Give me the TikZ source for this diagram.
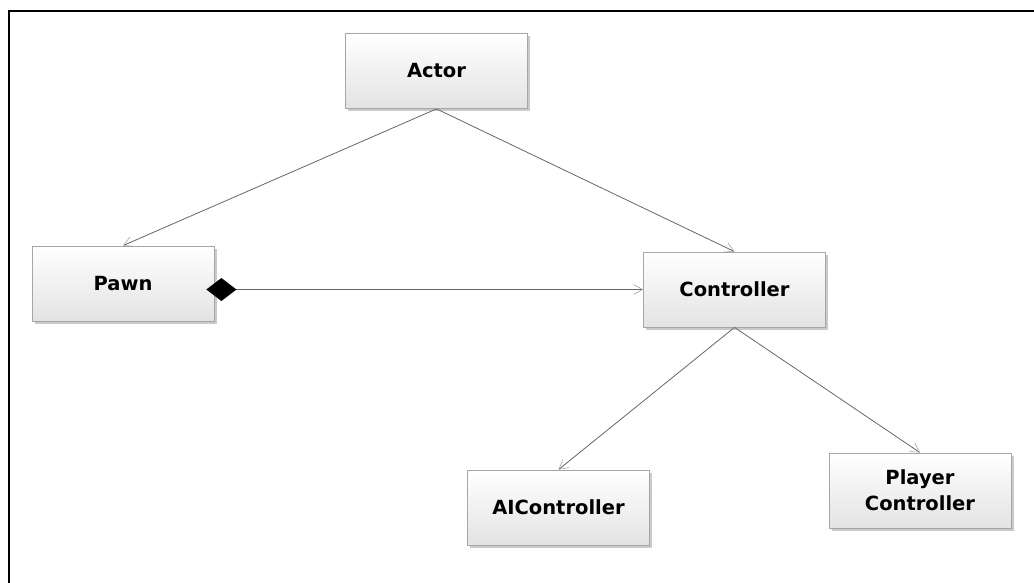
\documentclass[tikz,border=0pt]{standalone}
\usepackage{fontspec}
\setmainfont{DejaVu Sans}
\usetikzlibrary{arrows.meta,shadows}
\begin{document}
\begin{tikzpicture}[x=1pt,y=-1pt,
  cls/.style={draw=black!35, line width=0.8pt, top color=white, bottom color=black!11,
    minimum width=182pt, minimum height=75pt, inner sep=0pt, align=center,
    font=\fontsize{19.5}{26}\selectfont\bfseries,
    drop shadow={shadow xshift=2.5pt, shadow yshift=-2.5pt, opacity=0.35, fill=black!60}},
  link/.style={draw=black!60, line width=0.8pt,
    -{Straight Barb[length=9pt,width=10pt,line width=0.5pt,color=black!40]}},
  comp/.style={draw=black!60, line width=0.8pt,
    {Diamond[length=30pt,width=23pt,fill=black,color=black]}-{Straight Barb[length=9pt,width=10pt,line width=0.5pt,color=black!40]}},
  frame/.style={line width=2pt, black}]
\useasboundingbox (0,0) rectangle (1034,583);
\draw[frame] (8,11) -- (1034,11);
\draw[frame] (9,10) -- (9,583);

\node[cls] (actor) at (436.5,71) {Actor};
\node[cls] (pawn) at (123,283.5) {Pawn};
\node[cls] (controller) at (734.5,289.5) {Controller};
\node[cls] (ai) at (558.5,507.5) {AIController};
\node[cls] (player) at (920,490.5) {Player\\Controller};

\draw[link] (actor.south) -- (pawn.north);
\draw[link] (actor.south) -- (controller.north);
\draw[comp] ([xshift=-8pt]pawn.east |- controller.west) -- (controller.west);
\draw[link] (controller.south) -- (ai.north);
\draw[link] (controller.south) -- (player.north);
\end{tikzpicture}
\end{document}
